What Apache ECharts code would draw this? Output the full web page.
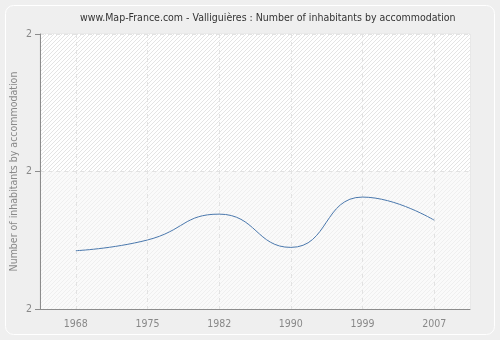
<!DOCTYPE html>
<html>
<head>
<meta charset="utf-8">
<script src="https://cdn.jsdelivr.net/npm/echarts@6/dist/echarts.min.js"></script>
<style>
  html, body { margin: 0; padding: 0; background: #efefef; }
  #chart { width: 500px; height: 340px; }
</style>
</head>
<body>
<div id="chart"></div>
<script>
// Census years and average inhabitants per accommodation
const years = ['1968', '1975', '1982', '1990', '1999', '2007'];
const inhabitantsPerHome = [1.99424, 1.99502, 1.9969, 1.99448, 1.99814, 1.99646];
const yMin = 1.99;
const yMax = 2.01;
const yStep = 0.01;

// Diagonal "/" hatch used as the plot background
function hatch(bg, stroke) {
  const n = 4;
  const c = document.createElement('canvas');
  c.width = n; c.height = n;
  const g = c.getContext('2d');
  g.fillStyle = bg;
  g.fillRect(0, 0, n, n);
  g.fillStyle = stroke;
  for (let i = 0; i < n; i++) {
    g.fillRect(i, n - 1 - i, 1, 1);
  }
  return { image: c, repeat: 'repeat' };
}

const font = 'DejaVu Sans Condensed, DejaVu Sans';
const chart = echarts.init(document.getElementById('chart'), null, { renderer: 'canvas' });

chart.setOption({
  backgroundColor: '#efefef',
  animation: false,
  graphic: [{
    type: 'rect',
    shape: { x: 5.5, y: 5.5, width: 489, height: 329, r: 8 },
    style: { fill: '#efefef', stroke: '#ffffff', lineWidth: 1 },
    z: -10
  }],
  title: {
    text: 'www.Map-France.com - Valliguières : Number of inhabitants by accommodation',
    left: 75,
    top: 8,
    textStyle: { fontFamily: font, fontSize: 10.5, fontWeight: 'normal', color: '#333' }
  },
  grid: {
    left: 40, right: 30, top: 34, bottom: 31,
    outerBoundsMode: 'none',
    containLabel: false,
    show: true, borderColor: '#e2e2e2', borderWidth: 1, backgroundColor: 'transparent'
  },
  xAxis: {
    type: 'category',
    data: years,
    boundaryGap: true,
    axisLine: { lineStyle: { color: '#8c8c8c' } },
    axisTick: { alignWithLabel: true, length: 5, lineStyle: { color: '#8c8c8c' } },
    axisLabel: { fontFamily: font, fontSize: 10.5, color: '#888', margin: 10 },
    splitLine: { show: true, alignWithLabel: true, lineStyle: { color: '#e2e2e2', type: [4, 4] } }
  },
  yAxis: {
    type: 'value',
    min: yMin, max: yMax, interval: yStep,
    name: 'Number of inhabitants by accommodation',
    nameLocation: 'middle',
    nameGap: 20,
    nameMoveOverlap: false,
    nameTextStyle: { fontFamily: font, fontSize: 10.5, color: '#888' },
    axisLine: { show: true, lineStyle: { color: '#8c8c8c' } },
    axisTick: { show: true, length: 5, lineStyle: { color: '#8c8c8c' } },
    axisLabel: { fontFamily: font, fontSize: 10.5, color: '#888', margin: 8,
      formatter: v => String(Math.round(v)) },
    splitLine: { show: true, lineStyle: { color: '#e2e2e2', type: [4, 4] } },
    splitArea: { show: true, areaStyle: { color: [hatch('#fafafa', '#efefef'), hatch('#ffffff', '#e4e4e4')] } }
  },
  series: [{
    type: 'line',
    data: inhabitantsPerHome,
    smooth: 0.5,
    symbol: 'none',
    lineStyle: { color: '#4a78ad', width: 1 }
  }]
});
</script>
</body>
</html>
